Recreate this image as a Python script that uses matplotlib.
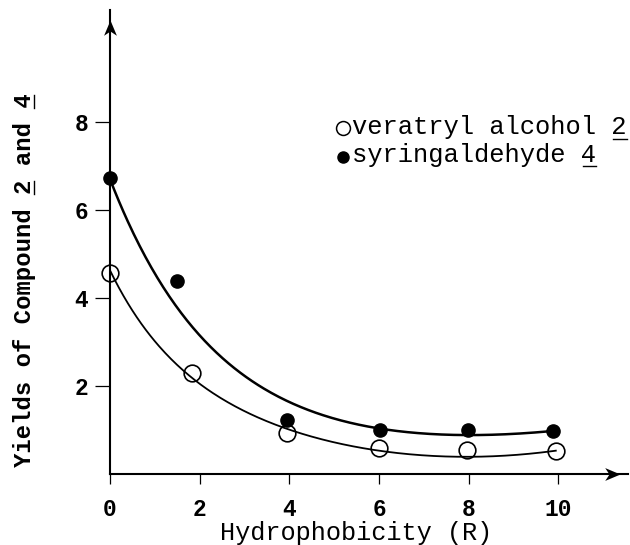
import numpy as np
import matplotlib
matplotlib.use("Agg")
import matplotlib.pyplot as plt
from matplotlib.path import Path
from matplotlib.lines import Line2D

# ---------------- data ----------------
x_veratryl = [0.0, 1.82, 3.94, 6.00, 7.95, 9.94]
y_veratryl = [4.58, 2.30, 0.93, 0.58, 0.55, 0.53]

x_syring = [0.0, 1.50, 3.95, 6.02, 7.99, 9.87]
y_syring = [6.72, 4.38, 1.23, 0.99, 1.00, 0.98]

# traces of the drawn fitted curves
xc_syring = [0.0, 0.52, 0.89, 1.37, 1.71, 2.60, 3.49, 4.24, 4.90, 6.00, 7.10, 8.00, 9.00, 9.87]
yc_syring = [6.70, 5.48, 4.76, 3.96, 3.51, 2.52, 1.92, 1.54, 1.30, 1.02, 0.91, 0.89, 0.91, 0.98]
xc_veratryl = [0.0, 0.15, 0.74, 1.82, 2.75, 3.94, 4.24, 4.90, 6.00, 7.10, 8.00, 9.00, 9.94]
yc_veratryl = [4.58, 4.42, 3.28, 2.26, 1.54, 1.02, 0.93, 0.73, 0.53, 0.43, 0.40, 0.42, 0.53]

x_ticks = [0, 2, 4, 6, 8, 10]
x_ticklabels = ["0", "2", "4", "6", "8", "10"]
y_ticks = [2, 4, 6, 8]
y_ticklabels = ["2", "4", "6", "8"]

label_ver = "veratryl alcohol 2"
label_syr = "syringaldehyde 4"
xlabel = "Hydrophobicity (R)"
ylabel = "Yields of Compound 2 and 4"

# ---------------- helpers ----------------
W, H = 630, 545
FONT = "Liberation Mono"


def fx(px):
    return px / W


def fy(py):  # py measured from top
    return 1 - py / H


def smooth(xs, ys, n=300):
    xs = np.asarray(xs, float)
    ys = np.asarray(ys, float)
    best = None
    for b in np.linspace(0.1, 2.0, 191):
        A = np.column_stack([np.exp(-b * xs), np.ones_like(xs), xs, xs ** 2])
        coef, *_ = np.linalg.lstsq(A, ys, rcond=None)
        err = np.sum((A @ coef - ys) ** 2)
        if best is None or err < best[0]:
            best = (err, b, coef)
    _, b, coef = best
    xx = np.linspace(xs.min(), xs.max(), n)
    A = np.column_stack([np.exp(-b * xx), np.ones_like(xx), xx, xx ** 2])
    return xx, A @ coef


# ---------------- figure ----------------
fig = plt.figure(figsize=(W / 100, H / 100), dpi=100)
ax_left, ax_right, ax_top, ax_bot = 110, 628, 10, 474
ax = fig.add_axes([fx(ax_left), fy(ax_bot), (ax_right - ax_left) / W, (ax_bot - ax_top) / H])
ax.set_xlim(0, 11.55)
ax.set_ylim(0, 10.55)

for s in ("top", "right"):
    ax.spines[s].set_visible(False)
for s in ("left", "bottom"):
    ax.spines[s].set_linewidth(1.5)
    ax.spines[s].set_color("black")

# arrow heads (stealth style)
arrow_up = Path([(0, 0), (-0.42, -1), (0, -0.72), (0.42, -1), (0, 0)],
                [Path.MOVETO, Path.LINETO, Path.LINETO, Path.LINETO, Path.CLOSEPOLY])
arrow_right = Path([(0, 0), (-1, 0.42), (-0.72, 0), (-1, -0.42), (0, 0)],
                   [Path.MOVETO, Path.LINETO, Path.LINETO, Path.LINETO, Path.CLOSEPOLY])
ax.plot([0], [10.32], marker=arrow_up, ms=22, color="black", mew=0, clip_on=False, zorder=5)
ax.plot([11.37], [0], marker=arrow_right, ms=22, color="black", mew=0, clip_on=False, zorder=5)

# curves
xs, ys = smooth(xc_syring, yc_syring)
ax.plot(xs, ys, color="black", lw=1.8, zorder=2)
xs, ys = smooth(xc_veratryl, yc_veratryl)
ax.plot(xs, ys, color="black", lw=1.3, zorder=2)

# points
ax.plot(x_veratryl, y_veratryl, ls="none", marker="o", ms=12, mfc="none",
        mec="black", mew=1.2, zorder=3, clip_on=False)
ax.plot(x_syring, y_syring, ls="none", marker="o", ms=9.5, mfc="black",
        mec="black", zorder=4, clip_on=False)

# ticks
tick_font = dict(family=FONT, weight="bold", size=16.5)
ax.set_xticks(x_ticks)
ax.set_xticklabels(x_ticklabels, fontdict=tick_font)
ax.set_yticks(y_ticks)
ax.set_yticklabels(y_ticklabels, fontdict=tick_font)
ax.tick_params(axis="x", length=7, width=0.9, pad=10, direction="out")
ax.tick_params(axis="y", length=10.5, width=0.9, pad=5, direction="out")

# x label
fig.text(fx(356.5), fy(540), xlabel, family=FONT, size=18.2, ha="center", va="baseline")

# y label (rotated, starting at bottom)
ylab_fs = 17.2
ylab_base_x = 31
ylab_start_y = 467
fig.text(fx(ylab_base_x), fy(ylab_start_y), ylabel, family=FONT, weight="bold", size=ylab_fs,
         rotation=90, rotation_mode="anchor", ha="left", va="baseline")
adv = 0.6 * ylab_fs * 100 / 72
for idx in (ylabel.index("2"), len(ylabel) - 1):
    y0 = ylab_start_y - idx * adv - 1
    y1 = ylab_start_y - (idx + 1) * adv + 1
    fig.add_artist(Line2D([fx(ylab_base_x + 3), fx(ylab_base_x + 3)], [fy(y0), fy(y1)],
                          color="black", lw=1.0))

# legend
leg_fs = 18.4
leg_adv = 0.6 * leg_fs * 100 / 72
leg_x = 351.7
fig.add_artist(Line2D([fx(343.3)], [fy(128.3)], marker="o", ms=10, mfc="none",
                      mec="black", mew=1.1))
fig.add_artist(Line2D([fx(342.7)], [fy(156.7)], marker="o", ms=8, mfc="black",
                      mec="black"))
for label, base in ((label_ver, 134.3), (label_syr, 161.7)):
    fig.text(fx(leg_x), fy(base), label, family=FONT, size=leg_fs, ha="left", va="baseline")
    idx = len(label) - 1
    x0 = leg_x + idx * leg_adv + 1
    x1 = leg_x + (idx + 1) * leg_adv - 1
    fig.add_artist(Line2D([fx(x0), fx(x1)], [fy(base + 4.5), fy(base + 4.5)],
                          color="black", lw=1.0))

fig.savefig("out.png", dpi=100)
